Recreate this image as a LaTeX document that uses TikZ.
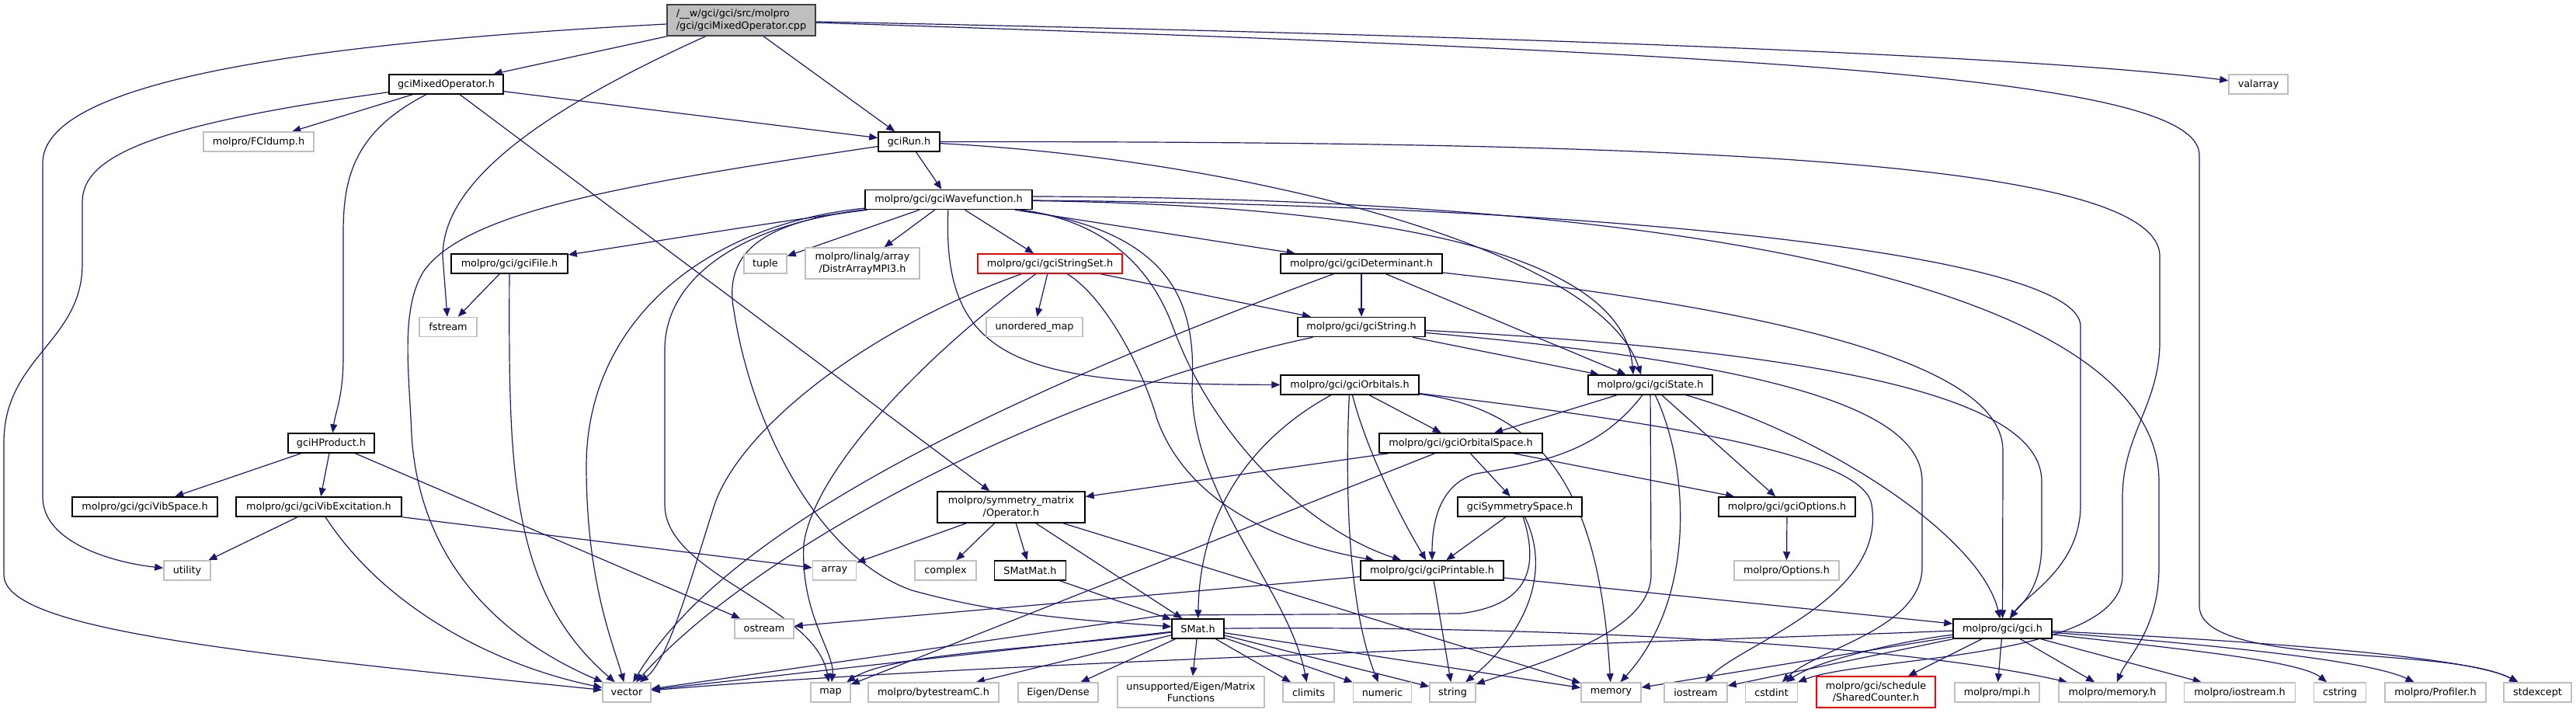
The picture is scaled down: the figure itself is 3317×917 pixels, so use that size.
\documentclass[tikz,border=0pt]{standalone}
\usepackage{fontspec}
\setmainfont{DejaVu Sans}
\usepackage{xcolor}
\usepackage{tikz}
\usetikzlibrary{arrows.meta}
\definecolor{edgeblue}{HTML}{191970}
\definecolor{grey75}{HTML}{BFBFBF}
\definecolor{grey40}{HTML}{404040}
\pgfdeclarelayer{edges}
\pgfsetlayers{edges,main}

\begin{document}
\begin{tikzpicture}[x=0.5pt, y=-0.5pt,
    font=\fontsize{6.4pt}{7.6pt}\selectfont,
    hdrbox/.style={rectangle, draw=black, line width=0.75pt, fill=white, inner sep=0pt, minimum height=12.5pt, align=center},
    sysbox/.style={hdrbox, draw=grey75},
    cutbox/.style={hdrbox, draw=red},
    rootbox/.style={hdrbox, draw=grey40, fill=grey75, align=left},
    twoline/.style={minimum height=20pt},
    dep/.style={draw=edgeblue, line width=0.6pt, -{Triangle[length=5.5pt, width=4.5pt]}}]

    \useasboundingbox (0,0) rectangle (3317,917);

    \node [rootbox, twoline, minimum width=95.5pt] (root) at (954.5,26) {/\_\_w/gci/gci/src/molpro\\/gci/gciMixedOperator.cpp};
    \node [hdrbox, minimum width=73.5pt] (mixop) at (574.5,108.5) {gciMixedOperator.h};
    \node [sysbox, minimum width=38pt] (valarray) at (2908,108.5) {valarray};
    \node [sysbox, minimum width=71pt] (fcidump) at (333,182.5) {molpro/FCIdump.h};
    \node [hdrbox, minimum width=39.5pt] (run) at (1170.5,182.5) {gciRun.h};
    \node [hdrbox, minimum width=107.5pt] (wavefn) at (1221.5,257) {molpro/gci/gciWavefunction.h};
    \node [hdrbox, minimum width=75pt] (gcifile) at (656,339.5) {molpro/gci/gciFile.h};
    \node [sysbox, minimum width=27.5pt] (tuple) at (985.5,339.5) {tuple};
    \node [sysbox, twoline, minimum width=73.5pt] (distr) at (1110.5,339) {molpro/linalg/array\\/DistrArrayMPI3.h};
    \node [cutbox, minimum width=93pt] (stringset) at (1352,339.5) {molpro/gci/gciStringSet.h};
    \node [hdrbox, minimum width=104pt] (determinant) at (1753,339.5) {molpro/gci/gciDeterminant.h};
    \node [sysbox, minimum width=37pt] (fstream) at (577,421) {fstream};
    \node [sysbox, minimum width=62pt] (umap) at (1332,421) {unordered\_map};
    \node [hdrbox, minimum width=82pt] (gcistring) at (1753,421) {molpro/gci/gciString.h};
    \node [hdrbox, minimum width=89pt] (orbitals) at (1738,495.5) {molpro/gci/gciOrbitals.h};
    \node [hdrbox, minimum width=80pt] (state) at (2125,495.5) {molpro/gci/gciState.h};
    \node [hdrbox, minimum width=55.5pt] (hproduct) at (426.5,570.5) {gciHProduct.h};
    \node [hdrbox, minimum width=105pt] (orbspace) at (1881,570.5) {molpro/gci/gciOrbitalSpace.h};
    \node [hdrbox, minimum width=93.5pt] (vibspace) at (186.5,652.5) {molpro/gci/gciVibSpace.h};
    \node [hdrbox, minimum width=106.5pt] (vibexc) at (410.5,652.5) {molpro/gci/gciVibExcitation.h};
    \node [hdrbox, twoline, minimum width=95pt] (operator) at (1302,653) {molpro/symmetry\_matrix\\/Operator.h};
    \node [hdrbox, minimum width=80pt] (symspace) at (1957,652.5) {gciSymmetrySpace.h};
    \node [hdrbox, minimum width=88pt] (options) at (2301,652.5) {molpro/gci/gciOptions.h};
    \node [sysbox, minimum width=30pt] (utility) at (241,734.5) {utility};
    \node [sysbox, minimum width=28pt] (array) at (1074.5,734.5) {array};
    \node [sysbox, minimum width=39.5pt] (complex) at (1217.5,734.5) {complex};
    \node [hdrbox, minimum width=46pt] (smatmat) at (1326.5,734.5) {SMatMat.h};
    \node [hdrbox, minimum width=92pt] (printable) at (1844,734.5) {molpro/gci/gciPrintable.h};
    \node [sysbox, minimum width=67.5pt] (optionsh) at (2300.5,734.5) {molpro/Options.h};
    \node [sysbox, minimum width=38pt] (ostream) at (984,809.5) {ostream};
    \node [hdrbox, minimum width=33.5pt] (smat) at (1542.5,809.5) {SMat.h};
    \node [hdrbox, minimum width=63.5pt] (gcih) at (2578.5,809.5) {molpro/gci/gci.h};
    \node [sysbox, minimum width=31pt] (vector) at (807,891.5) {vector};
    \node [sysbox, minimum width=25.5pt] (map) at (1069.5,891.5) {map};
    \node [sysbox, minimum width=84pt] (bytestream) at (1202,891.5) {molpro/bytestreamC.h};
    \node [sysbox, minimum width=51.5pt] (eigendense) at (1362.5,891.5) {Eigen/Dense};
    \node [sysbox, twoline, minimum width=94.5pt] (matfun) at (1533.5,891) {unsupported/Eigen/Matrix\\Functions};
    \node [sysbox, minimum width=33pt] (climits) at (1685,891.5) {climits};
    \node [sysbox, minimum width=37.5pt] (numeric) at (1780,891.5) {numeric};
    \node [sysbox, minimum width=29.5pt] (string) at (1870.5,891.5) {string};
    \node [sysbox, minimum width=38.5pt] (memory) at (2074.5,891.5) {memory};
    \node [sysbox, minimum width=40.5pt] (iostream) at (2183.5,891.5) {iostream};
    \node [sysbox, minimum width=33.5pt] (cstdint) at (2281,891.5) {cstdint};
    \node [cutbox, twoline, minimum width=76.5pt] (shared) at (2415.5,891) {molpro/gci/schedule\\/SharedCounter.h};
    \node [sysbox, minimum width=54.5pt] (mpih) at (2571.5,891.5) {molpro/mpi.h};
    \node [sysbox, minimum width=69pt] (memh) at (2720,891.5) {molpro/memory.h};
    \node [sysbox, minimum width=71.5pt] (iostreamh) at (2884,891.5) {molpro/iostream.h};
    \node [sysbox, minimum width=33.5pt] (cstring) at (3013,891.5) {cstring};
    \node [sysbox, minimum width=65pt] (profiler) at (3136,891.5) {molpro/Profiler.h};
    \node [sysbox, minimum width=43.5pt] (stdexcept) at (3267.5,891.5) {stdexcept};

    \begin{pgfonlayer}{edges}
    \draw [dep] (root) -- (mixop);
    \draw [dep] (root) -- (run);
    \draw [dep] (root) .. controls (1900,45) and (2600,70) .. (valarray);
    \draw [dep] (root) .. controls (2300,70) and (2832,100) .. (2832,200) -- (2832,780) .. controls (2832,860) and (3150,830) .. (stdexcept);
    \draw [dep] (root) .. controls (300,60) and (55,120) .. (55,210) -- (55,640) .. controls (55,700) and (150,725) .. (utility);
    \draw [dep] (root) .. controls (680,150) and (570,240) .. (570,330) -- (fstream);

    \draw [dep] (mixop) -- (fcidump);
    \draw [dep] (mixop) -- (run);
    \draw [dep] (mixop) .. controls (455,170) and (442,230) .. (442,300) -- (442,460) .. controls (442,510) and (432,530) .. (hproduct);
    \draw [dep] (mixop) -- (operator);
    \draw [dep] (mixop) .. controls (200,160) and (106,200) .. (106,260) -- (106,340) .. controls (106,440) and (5,460) .. (5,570) -- (5,740) .. controls (5,810) and (300,840) .. (vector);

    \draw [dep] (run) -- (wavefn);
    \draw [dep] (run) .. controls (820,235) and (600,270) .. (545,350) .. controls (515,400) and (527,480) .. (530,560) .. controls (540,720) and (640,820) .. (vector);
    \draw [dep] (run) .. controls (1600,205) and (2060,320) .. ([xshift=-6pt]state.north);
    \draw [dep] (run) .. controls (2100,182) and (2781,200) .. (2781,330) -- (2781,440) .. controls (2781,520) and (2733,560) .. (2733,640) -- (2733,740) .. controls (2733,850) and (2400,845) .. (cstdint);

    \draw [dep] (wavefn) .. controls (1000,285) and (850,310) .. (gcifile);
    \draw [dep] (wavefn) -- (tuple);
    \draw [dep] (wavefn) -- (distr);
    \draw [dep] (wavefn) -- (stringset);
    \draw [dep] (wavefn) -- (determinant);
    \draw [dep] (wavefn) .. controls (1212,470) and (1320,495) .. (orbitals);
    \draw [dep] (wavefn) .. controls (1800,265) and (2090,330) .. ([xshift=-11pt]state.north);
    \draw [dep] (wavefn) .. controls (900,290) and (755,420) .. (755,600) .. controls (755,750) and (790,830) .. (vector);
    \draw [dep] (wavefn) .. controls (950,290) and (856,360) .. (856,450) -- (856,650) .. controls (856,740) and (1050,780) .. (map);
    \draw [dep] (wavefn) .. controls (990,285) and (930,320) .. (945,400) .. controls (970,560) and (1060,720) .. (1174,760) .. controls (1300,795) and (1420,800) .. (smat);
    \draw [dep] (wavefn) .. controls (2100,265) and (2679,330) .. (2679,420) -- (2679,650) .. controls (2679,730) and (2610,765) .. (gcih);
    \draw [dep] ([yshift=2pt]wavefn.east) .. controls (2300,255) and (2780,400) .. (2780,620) -- (2780,730) .. controls (2780,810) and (2740,845) .. (memh);
    \draw [dep] (wavefn) .. controls (1420,285) and (1480,340) .. (1510,420) .. controls (1560,560) and (1680,680) .. (printable);
    \draw [dep] (wavefn) .. controls (1520,300) and (1540,400) .. (1535,500) .. controls (1535,640) and (1660,760) .. (climits);

    \draw [dep] (stringset) -- (umap);
    \draw [dep] (stringset) -- (gcistring);
    \draw [dep] (stringset) .. controls (1100,430) and (950,560) .. (920,650) .. controls (885,760) and (860,850) .. (vector);
    \draw [dep] (stringset) .. controls (1200,450) and (1050,600) .. (1035,700) .. controls (1030,790) and (1075,840) .. (map);
    \draw [dep] (stringset) .. controls (1420,380) and (1470,470) .. (1490,540) .. controls (1530,650) and (1650,700) .. (printable);

    \draw [dep] (determinant) -- (gcistring);
    \draw [dep] (determinant) -- (state);
    \draw [dep] (determinant) .. controls (1100,580) and (900,740) .. (vector);
    \draw [dep] (determinant) .. controls (2300,400) and (2579,470) .. (2579,580) -- (gcih);

    \draw [dep] (gcistring) -- (state);
    \draw [dep] (gcistring) .. controls (1380,500) and (990,690) .. (vector);
    \draw [dep] (gcistring) .. controls (2400,455) and (2629,520) .. (2629,620) -- (2629,700) .. controls (2629,760) and (2600,780) .. (gcih);
    \draw [dep] (gcistring) .. controls (2300,470) and (2475,530) .. (2475,620) -- (2475,730) .. controls (2475,810) and (2340,835) .. (cstdint);

    \draw [dep] (gcifile) -- (fstream);
    \draw [dep] (gcifile) .. controls (655,600) and (655,760) .. (vector);

    \draw [dep] (orbitals) -- (orbspace);
    \draw [dep] (orbitals) .. controls (1620,560) and (1545,650) .. (smat);
    \draw [dep] (orbitals) .. controls (1732,620) and (1735,780) .. (numeric);
    \draw [dep] (orbitals) .. controls (1760,580) and (1800,660) .. (printable);
    \draw [dep] (orbitals) .. controls (2000,530) and (2060,650) .. (memory);
    \draw [dep] (orbitals) .. controls (2100,540) and (2400,580) .. (2410,650) .. controls (2430,770) and (2240,830) .. (iostream);

    \draw [dep] (state) -- (orbspace);
    \draw [dep] (state) .. controls (2060,580) and (1990,595) .. (1900,610) .. controls (1850,625) and (1844,680) .. (printable);
    \draw [dep] (state) -- (2126,740) .. controls (2126,820) and (1960,860) .. (string);
    \draw [dep] (state) .. controls (2175,600) and (2185,770) .. (memory);
    \draw [dep] (state) -- (options);
    \draw [dep] (state) .. controls (2350,560) and (2550,690) .. (gcih);

    \draw [dep] (orbspace) -- (operator);
    \draw [dep] (orbspace) -- (map);
    \draw [dep] (orbspace) -- (symspace);
    \draw [dep] (orbspace) -- (options);

    \draw [dep] (hproduct) -- (vibspace);
    \draw [dep] (hproduct) -- (vibexc);
    \draw [dep] (hproduct) -- (ostream);

    \draw [dep] (vibexc) -- (utility);
    \draw [dep] (vibexc) .. controls (500,790) and (650,860) .. (vector);
    \draw [dep] (vibexc) -- (array);

    \draw [dep] (operator) -- (array);
    \draw [dep] (operator) -- (complex);
    \draw [dep] (operator) -- (smatmat);
    \draw [dep] (operator) -- (smat);
    \draw [dep] (operator) -- (memory);
    \draw [dep] (smatmat) -- (smat);
    \draw [dep] (options) -- (optionsh);

    \draw [dep] (symspace) -- (printable);
    \draw [dep] (symspace) .. controls (2000,740) and (1960,820) .. (string);
    \draw [dep] (symspace) .. controls (1985,740) and (1960,780) .. (1880,790) -- (1500,792) -- (vector);

    \draw [dep] (printable) -- (ostream);
    \draw [dep] (printable) -- (string);
    \draw [dep] (printable) -- (gcih);

    \draw [dep] (smat) -- (vector);
    \draw [dep] (smat) .. controls (1350,835) and (1150,840) .. (map);
    \draw [dep] (smat) -- (bytestream);
    \draw [dep] (smat) -- (eigendense);
    \draw [dep] (smat) -- (matfun);
    \draw [dep] (smat) -- (climits);
    \draw [dep] (smat) -- (numeric);
    \draw [dep] (smat) -- (string);
    \draw [dep] (smat) -- (memory);
    \draw [dep] (smat) .. controls (2000,805) and (2450,830) .. (memh);

    \draw [dep] (gcih) .. controls (2200,825) and (1300,850) .. (vector);
    \draw [dep] (gcih) -- (memory);
    \draw [dep] (gcih) -- (iostream);
    \draw [dep] (gcih) .. controls (2450,825) and (2340,850) .. (cstdint);
    \draw [dep] (gcih) -- (shared);
    \draw [dep] (gcih) -- (mpih);
    \draw [dep] (gcih) -- (memh);
    \draw [dep] (gcih) -- (iostreamh);
    \draw [dep] (gcih) .. controls (2800,835) and (2960,850) .. (cstring);
    \draw [dep] (gcih) .. controls (2850,830) and (3050,850) .. (profiler);
    \draw [dep] (gcih) .. controls (2900,825) and (3180,845) .. (stdexcept);
    \end{pgfonlayer}

\end{tikzpicture}
\end{document}
